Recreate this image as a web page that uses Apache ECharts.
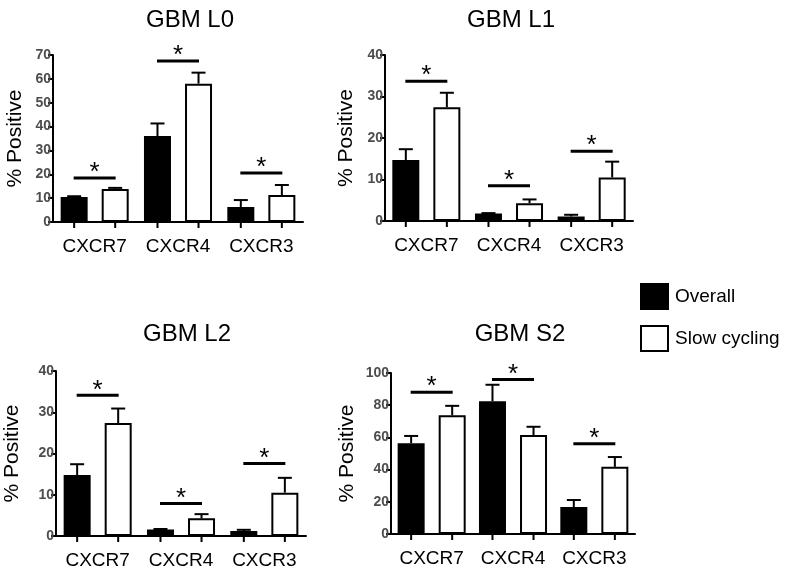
<!DOCTYPE html>
<html>
<head>
<meta charset="utf-8">
<script src="https://cdn.jsdelivr.net/npm/echarts@6/dist/echarts.min.js"></script>
<style>html,body{margin:0;padding:0;background:#fff}#c{width:792px;height:572px}</style>
</head>
<body>
<div id="c"></div>
<script>
// ---- data ----
const categories = ['CXCR7', 'CXCR4', 'CXCR3'];
const panelTitles = ['GBM L0', 'GBM L1', 'GBM L2', 'GBM S2'];
const seriesNames = ['Overall', 'Slow cycling'];

const L0_overall = [10.5, 36.0, 6.3];
const L0_overallErr = [0.3, 5.3, 2.9];
const L0_slow = [13.8, 58.0, 11.3];
const L0_slowErr = [0.5, 4.6, 4.2];
const L0_sig = [18.4, 67.5, 20.5];

const L1_overall = [14.7, 1.8, 1.1];
const L1_overallErr = [2.6, 0.1, 0.4];
const L1_slow = [27.4, 4.3, 10.5];
const L1_slowErr = [3.5, 0.9, 3.8];
const L1_sig = [33.7, 8.5, 16.8];

const L2_overall = [14.8, 1.6, 1.2];
const L2_overallErr = [2.6, 0.1, 0.3];
const L2_slow = [27.4, 4.3, 10.5];
const L2_slowErr = [3.5, 1.0, 3.6];
const L2_sig = [34.1, 7.9, 17.6];

const S2_overall = [56.4, 82.5, 16.8];
const S2_overallErr = [4.5, 10.2, 4.3];
const S2_slow = [73.8, 61.5, 41.7];
const S2_slowErr = [5.8, 5.1, 6.1];
const S2_sig = [88.0, 96.0, 56.0];

const yMax = [70, 40, 40, 100];
const yInterval = [10, 10, 10, 20];

const panels = [
  {overall: L0_overall, overallErr: L0_overallErr, slow: L0_slow, slowErr: L0_slowErr, sig: L0_sig},
  {overall: L1_overall, overallErr: L1_overallErr, slow: L1_slow, slowErr: L1_slowErr, sig: L1_sig},
  {overall: L2_overall, overallErr: L2_overallErr, slow: L2_slow, slowErr: L2_slowErr, sig: L2_sig},
  {overall: S2_overall, overallErr: S2_overallErr, slow: S2_slow, slowErr: S2_slowErr, sig: S2_sig}
];

// ---- layout / style ----
const FONT = "'Liberation Sans', Arial, sans-serif";
const BAR_W = 27, BAR_GAP = 0.52;
const OFF = BAR_W * (1 + BAR_GAP) / 2;
const grids = [
  {left: 53, top: 55, width: 250, height: 167},
  {left: 385, top: 55, width: 248, height: 166},
  {left: 56, top: 371, width: 250, height: 165},
  {left: 391, top: 373, width: 244, height: 161}
];
const titlePos = [[185, 3], [506, 3], [182, 317], [515, 317]];
const nameGaps = [27, 28, 33, 33];

function errRender(side) {
  return function (params, api) {
    const cat = api.value(0), v = api.value(1), e = api.value(2);
    const p0 = api.coord([cat, 0]);
    const pv = api.coord([cat, v]);
    const pe = api.coord([cat, v + e]);
    const x = p0[0] + side * OFF;
    const st = {stroke: '#000', lineWidth: 2};
    const children = [
      {type: 'line', shape: {x1: x, y1: p0[1], x2: x, y2: p0[1] + 6}, style: st}
    ];
    if (e > 0) {
      children.push({type: 'line', shape: {x1: x, y1: pv[1], x2: x, y2: pe[1]}, style: st});
      children.push({type: 'line', shape: {x1: x - 7, y1: pe[1], x2: x + 7, y2: pe[1]}, style: st});
    }
    return {type: 'group', children: children};
  };
}

function sigRender(params, api) {
  const cat = api.value(0), lv = api.value(1);
  const p = api.coord([cat, lv]);
  return {
    type: 'group',
    children: [
      {type: 'line', shape: {x1: p[0] - 21, y1: p[1], x2: p[0] + 21, y2: p[1]},
       style: {stroke: '#000', lineWidth: 3}},
      {type: 'text', style: {text: '*', x: p[0], y: p[1] - 5, align: 'center', verticalAlign: 'middle',
        font: '26px ' + FONT, fill: '#000'}}
    ]
  };
}

const option = {
  animation: false,
  backgroundColor: '#fff',
  title: panelTitles.map((t, i) => ({
    text: t, left: titlePos[i][0], top: titlePos[i][1], textAlign: 'center',
    textStyle: {fontFamily: FONT, fontSize: 24, fontWeight: 'normal', color: '#000'}
  })),
  legend: {
    orient: 'vertical', left: 635, top: 278, itemWidth: 27, itemHeight: 25, itemGap: 15,
    icon: 'rect',
    textStyle: {fontFamily: FONT, fontSize: 19, color: '#000', padding: [0, 0, 0, 2]},
    data: [
      {name: seriesNames[0], itemStyle: {color: '#000', borderColor: '#000', borderWidth: 2}},
      {name: seriesNames[1], itemStyle: {color: '#fff', borderColor: '#000', borderWidth: 2}}
    ]
  },
  grid: grids,
  xAxis: grids.map((g, i) => ({
    type: 'category', gridIndex: i, data: categories,
    axisLine: {lineStyle: {color: '#000', width: 2}},
    axisTick: {show: false},
    axisLabel: {fontFamily: FONT, fontSize: 19, color: '#000', margin: 15, interval: 0}
  })),
  yAxis: grids.map((g, i) => ({
    type: 'value', gridIndex: i, min: 0, max: yMax[i], interval: yInterval[i],
    name: '% Positive', nameLocation: 'middle', nameRotate: 90, nameGap: nameGaps[i],
    nameTextStyle: {fontFamily: FONT, fontSize: 21, color: '#000'},
    axisLine: {show: true, lineStyle: {color: '#000', width: 2}},
    axisTick: {show: true, length: 5, lineStyle: {color: '#000', width: 2}},
    splitLine: {show: false},
    axisLabel: {fontFamily: FONT, fontSize: 14, fontWeight: 'bold', color: '#4d4d4d', margin: 2}
  })),
  series: []
};

panels.forEach((p, i) => {
  option.series.push({
    name: seriesNames[0], type: 'bar', xAxisIndex: i, yAxisIndex: i,
    data: p.overall, barWidth: BAR_W, barGap: (BAR_GAP * 100) + '%',
    itemStyle: {color: '#000', borderColor: '#000', borderWidth: 2}
  });
  option.series.push({
    name: seriesNames[1], type: 'bar', xAxisIndex: i, yAxisIndex: i,
    data: p.slow, barWidth: BAR_W, barGap: (BAR_GAP * 100) + '%',
    itemStyle: {color: '#fff', borderColor: '#000', borderWidth: 2}
  });
  option.series.push({
    type: 'custom', xAxisIndex: i, yAxisIndex: i, z: 5, renderItem: errRender(-1),
    data: categories.map((c, k) => [k, p.overall[k], p.overallErr[k]])
  });
  option.series.push({
    type: 'custom', xAxisIndex: i, yAxisIndex: i, z: 5, renderItem: errRender(1),
    data: categories.map((c, k) => [k, p.slow[k], p.slowErr[k]])
  });
  option.series.push({
    type: 'custom', xAxisIndex: i, yAxisIndex: i, z: 5, renderItem: sigRender,
    data: categories.map((c, k) => [k, p.sig[k]])
  });
});

const chart = echarts.init(document.getElementById('c'), null, {renderer: 'canvas'});
chart.setOption(option);
</script>
</body>
</html>
